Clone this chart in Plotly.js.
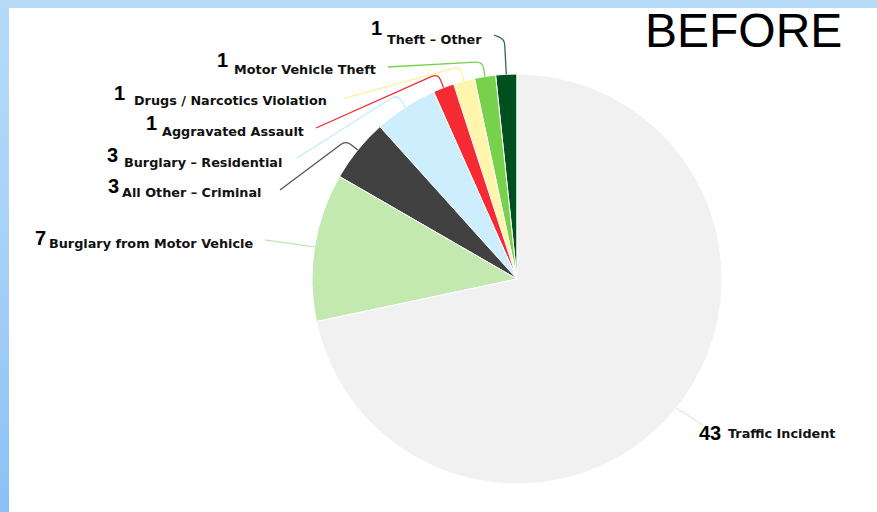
<!DOCTYPE html>
<html>
<head>
<meta charset="utf-8">
<script src="https://cdn.plot.ly/plotly-3.0.1.min.js"></script>
<style>
  html, body { margin: 0; padding: 0; }
  #wrap { position: relative; width: 877px; height: 512px; overflow: hidden;
          background: linear-gradient(to bottom, #b6dbf8 0%, #a6d1f7 50%, #8ac1f6 100%); }
  #panel { position: absolute; left: 9px; top: 8px; right: 0; bottom: 0; background: #ffffff; }
  #chart { position: absolute; left: 0; top: 0; width: 877px; height: 512px; }
</style>
</head>
<body>
<div id="wrap"><div id="panel"></div><div id="chart"></div></div>
<script>
// ---- data ----
const categories = ['Theft \u2013 Other', 'Motor Vehicle Theft', 'Drugs / Narcotics Violation',
  'Aggravated Assault', 'Burglary \u2013 Residential', 'All Other \u2013 Criminal',
  'Burglary from Motor Vehicle', 'Traffic Incident'];
const counts = [1, 1, 1, 1, 3, 3, 7, 43];
const chartTitle = 'BEFORE';

// ---- styles / layout (not data) ----
const sliceColors = ['#00501f', '#78d14a', '#fff5ad', '#f52a33', '#cdeefc', '#414141', '#c3e9b1', '#f1f1f1'];
const lineColors  = ['#2e6b45', '#78d14a', '#fff0a0', '#f52a33', '#c6eafb', '#555555', '#c3e9b1', '#e4e4e4'];
const W = 877, H = 512;
const CX = 517, CY = 279, R = 205;
// label placement in pixels: number left / baseline, text left / baseline, connector start, elbow distance
const labelPos = [
  {nx: 372, nb: 35,  tx: 388, tb: 44,  sx: 494, sy: 35,  el: 35},
  {nx: 218, nb: 67,  tx: 235, tb: 74,  sx: 388, sy: 67,  el: 15},
  {nx: 115, nb: 100, tx: 135, tb: 105, sx: 345, sy: 98,  el: 15},
  {nx: 147, nb: 130, tx: 163, tb: 136, sx: 316, sy: 128, el: 15},
  {nx: 108, nb: 162, tx: 125, tb: 167, sx: 297, sy: 158, el: 15},
  {nx: 109, nb: 193, tx: 123, tb: 197, sx: 280, sy: 190, el: 15},
  {nx: 36,  nb: 245, tx: 50,  tb: 248, sx: 265, sy: 240, el: 0},
  {nx: 700, nb: 440, tx: 729, tb: 438, sx: 703, sy: 425, el: 0}
];

const px = x => x / W;
const py = y => 1 - y / H;
const P = (x, y) => px(x).toFixed(5) + ',' + py(y).toFixed(5);

const total = counts.reduce((a, b) => a + b, 0);
const annotations = [];
const shapes = [];
let cum = 0;
counts.forEach((v, i) => {
  const mid = (cum + v / 2) / total * 2 * Math.PI; // counterclockwise from 12 o'clock
  cum += v;
  const L = labelPos[i];
  const edge = [CX - R * Math.sin(mid), CY - R * Math.cos(mid)];
  let path;
  if (L.el > 0) {
    const r2 = R + L.el;
    const elb = [CX - r2 * Math.sin(mid), CY - r2 * Math.cos(mid)];
    const unit = (a, b) => { const dx = b[0] - a[0], dy = b[1] - a[1]; const d = Math.hypot(dx, dy) || 1; return [dx / d, dy / d, d]; };
    const u1 = unit(elb, [L.sx, L.sy]);
    const u2 = unit(elb, edge);
    const rad = Math.min(7, u1[2] / 2, u2[2] / 2);
    const p1 = [elb[0] + u1[0] * rad, elb[1] + u1[1] * rad];
    const p2 = [elb[0] + u2[0] * rad, elb[1] + u2[1] * rad];
    path = 'M' + P(L.sx, L.sy) + ' L' + P(p1[0], p1[1]) + ' Q' + P(elb[0], elb[1]) + ' ' + P(p2[0], p2[1]) + ' L' + P(edge[0], edge[1]);
  } else {
    path = 'M' + P(L.sx, L.sy) + ' L' + P(edge[0], edge[1]);
  }
  shapes.push({type: 'path', xref: 'paper', yref: 'paper', path: path,
    line: {color: lineColors[i], width: 1.3}, layer: 'above'});

  annotations.push({xref: 'paper', yref: 'paper', x: px(L.nx - 1), y: py(L.nb - 7),
    xanchor: 'left', yanchor: 'middle', showarrow: false, borderpad: 0, borderwidth: 0,
    text: String(v), font: {family: 'Liberation Sans, Arial, sans-serif', size: 20, color: '#000', weight: 'bold'}});
  annotations.push({xref: 'paper', yref: 'paper', x: px(L.tx - 1), y: py(L.tb - 4.5),
    xanchor: 'left', yanchor: 'middle', showarrow: false, borderpad: 0, borderwidth: 0,
    text: '<b>' + categories[i] + '</b>', font: {family: 'DejaVu Sans, Verdana, sans-serif', size: 12.8, color: '#111'}});
});

annotations.push({xref: 'paper', yref: 'paper', x: px(645), y: py(30),
  xanchor: 'left', yanchor: 'middle', showarrow: false, borderpad: 0, borderwidth: 0,
  text: chartTitle, font: {family: 'Liberation Sans, Arial, sans-serif', size: 48, color: '#000'}});

const trace = {
  type: 'pie',
  values: counts,
  labels: categories,
  sort: false,
  direction: 'counterclockwise',
  rotation: -6,
  textinfo: 'none',
  hoverinfo: 'none',
  showlegend: false,
  marker: {colors: sliceColors, line: {color: '#ffffff', width: 1}},
  domain: {x: [px(CX - R), px(CX + R)], y: [py(CY + R), py(CY - R)]}
};

const layout = {
  width: W, height: H,
  margin: {l: 0, r: 0, t: 0, b: 0},
  paper_bgcolor: 'rgba(0,0,0,0)',
  plot_bgcolor: 'rgba(0,0,0,0)',
  showlegend: false,
  annotations: annotations,
  shapes: shapes
};

Plotly.newPlot('chart', [trace], layout, {displayModeBar: false, staticPlot: true});
</script>
</body>
</html>
